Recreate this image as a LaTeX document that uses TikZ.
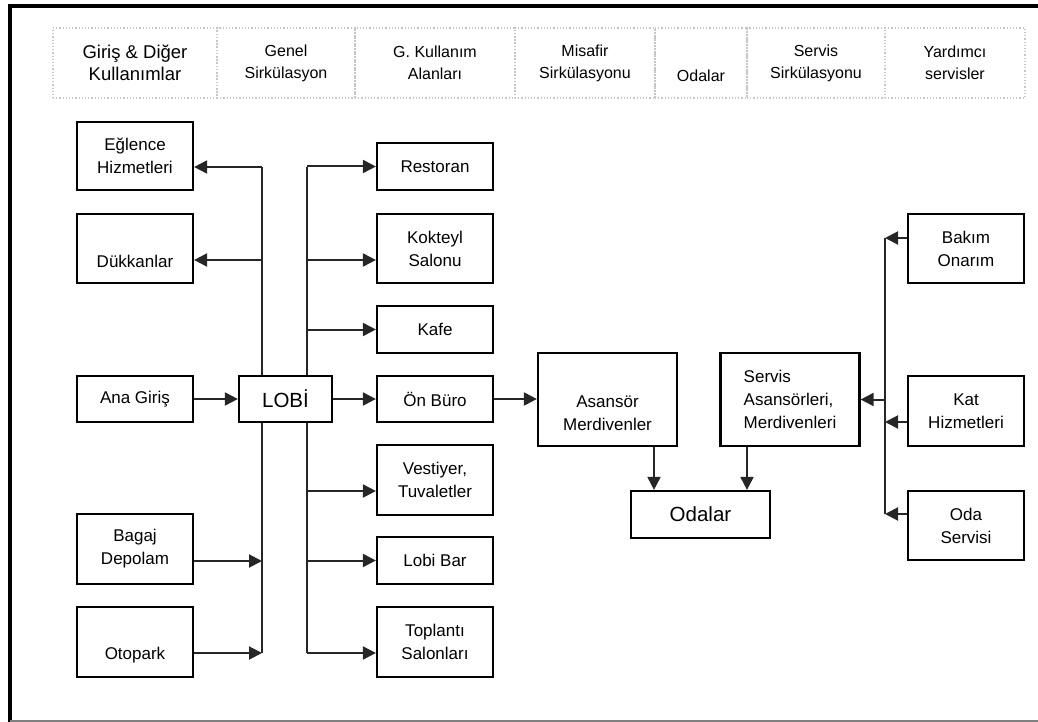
\documentclass[tikz,border=0pt]{standalone}
\usepackage{fontspec}
\setmainfont{Liberation Sans}
\usetikzlibrary{arrows.meta}

\begin{document}
\begin{tikzpicture}[x=1pt,y=-1pt,
  box/.style={draw,line width=2.2pt,align=center,inner sep=0pt,font=\fontsize{17}{23}\selectfont},
  big/.style={box,font=\fontsize{20.5}{24}\selectfont},
  head/.style={draw=gray!45,dotted,line width=1.2pt,align=center,inner sep=0pt,font=\fontsize{16}{22}\selectfont},
  link/.style={draw=black!85,line width=2pt},
  arr/.style={link,-{Triangle[length=13pt,width=13pt]}}]
\useasboundingbox (0,0) rectangle (1038,722);
% frame
\draw[line width=4pt] (1038,6) -- (9.5,6) -- (9.5,722);
\draw[gray,line width=2pt] (9.5,720.5) -- (1038,720.5);
% header row
\foreach \name/\x/\w/\txt in {h2/286/138/{Genel\\Sirkülasyon},h3/435/160/{G. Kullanım\\Alanları},h4/585/140/{Misafir\\Sirkülasyonu},h5/701/92/{\strut\\Odalar},h6/816/138/{Servis\\Sirkülasyonu},h7/955/140/{Yardımcı\\servisler}}
\node[head,minimum width=\w,minimum height=70] (\name) at (\x,63) {\txt};
\node[head,minimum width=164,minimum height=70,font=\fontsize{18.5}{22}\selectfont] (h1) at (135,63) {Giriş \& Diğer\\Kullanımlar};
% boxes
\foreach \name/\x/\y/\w/\h/\txt in {egl/135/156/116/68/{Eğlence\\Hizmetleri},dukkan/135/248.5/116/69/{\strut\\Dükkanlar},anagiris/135/399/116/46/{Ana Giriş},bagaj/135/549/116/70/{Bagaj\\Depolam},otopark/135/642/116/70/{\strut\\Otopark},restoran/435/166.5/116/47/{Restoran},kokteyl/435/248.5/116/69/{Kokteyl\\Salonu},kafe/435/329.5/116/47/{Kafe},onburo/435/399/116/46/{Ön Büro},vestiyer/435/480/116/70/{Vestiyer,\\Tuvaletler},lobibar/435/560.5/116/47/{Lobi Bar},toplanti/435/642/116/70/{Toplantı\\Salonları},asansor/607.5/399.5/139/93/{\strut\\Asansör\\Merdivenler},bakim/966/248.5/116/69/{Bakım\\Onarım},kat/966/411/116/70/{Kat\\Hizmetleri},odaserv/966/525.5/116/69/{Oda\\Servisi}}
\node[box,minimum width=\w,minimum height=\h] (\name) at (\x,\y) {\txt};
\node[box,align=left,minimum width=139,minimum height=93] (servis) at (790,399.5) {Servis\\Asansörleri,\\Merdivenleri};
\node[big,minimum width=93,minimum height=46] (lobi) at (285.5,399) {LOBİ};
\node[big,minimum width=139,minimum height=47] (odalar) at (700.5,514.5) {Odalar};
% trunks
\coordinate (ltop) at (262,167);
\coordinate (lbot) at (262,653);
\coordinate (rtop) at (307,167);
\coordinate (rbot) at (307,653);
\coordinate (stop) at (885,238);
\coordinate (sbot) at (885,514);
\draw[link] (lobi.north -| ltop) -- (ltop);
\draw[link] (lobi.south -| lbot) -- (lbot);
\draw[link] (lobi.north -| rtop) -- (rtop);
\draw[link] (lobi.south -| rbot) -- (rbot);
\draw[link] (stop) -- (sbot);
% arrows
\draw[arr] (anagiris) -- (lobi);
\draw[arr] (lobi) -- (onburo);
\draw[arr] (onburo.east) -- (onburo.east -| asansor.west);
\foreach \name/\dy in {egl/-11,dukkan/-11.5}
\draw[arr] ([yshift=\dy pt]\name.east -| ltop) -- ([yshift=\dy pt]\name.east);
\foreach \name/\dy in {bagaj/-12,otopark/-11}
\draw[arr] ([yshift=\dy pt]\name.east) -- ([yshift=\dy pt]\name.east -| ltop);
\foreach \name/\dy in {restoran/0,kokteyl/-11.5,kafe/0,vestiyer/-11,lobibar/0,toplanti/-11}
\draw[arr] ([yshift=\dy pt]\name.west -| rtop) -- ([yshift=\dy pt]\name.west);
\foreach \name/\dy in {bakim/10.5,kat/-11,odaserv/11.5}
\draw[arr] ([yshift=\dy pt]\name.west) -- ([yshift=\dy pt]\name.west -| stop);
\draw[arr] (servis.east -| stop) -- (servis.east);
\draw[arr] ([xshift=46.5pt]asansor.south) -- ([xshift=46.5pt]asansor.south |- odalar.north);
\draw[arr] ([xshift=-43pt]servis.south) -- ([xshift=-43pt]servis.south |- odalar.north);
\end{tikzpicture}
\end{document}
